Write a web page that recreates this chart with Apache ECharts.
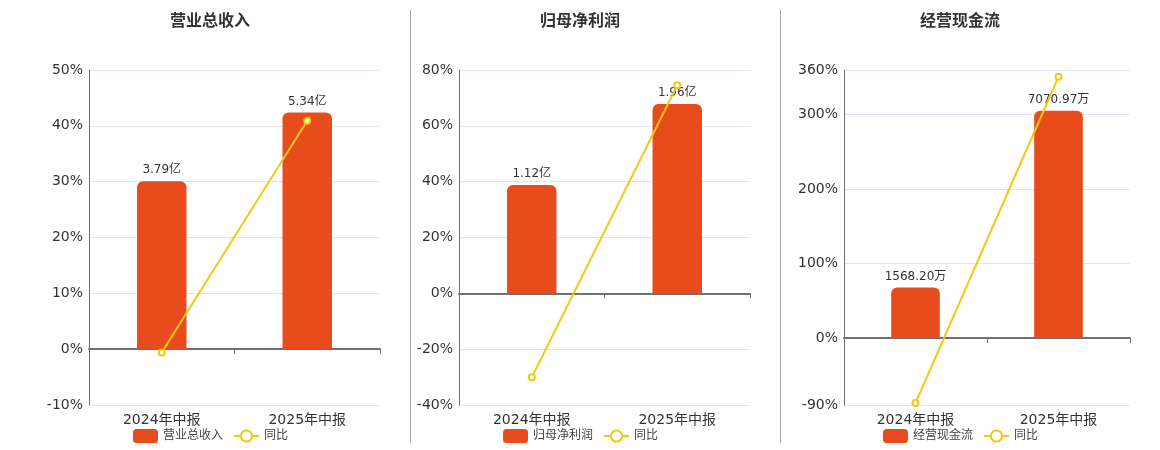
<!DOCTYPE html>
<html>
<head>
<meta charset="utf-8">
<script src="https://cdn.jsdelivr.net/npm/echarts@6/dist/echarts.min.js"></script>
<style>
html,body{margin:0;padding:0;background:#fff;}
#c{width:1160px;height:450px;}
</style>
</head>
<body>
<div id="c"></div>
<script>
// ---- data ----
const categories = ['2024年中报', '2025年中报'];
const panelTitles = ['营业总收入', '归母净利润', '经营现金流'];
const revenueValues = [3.79, 5.34];        // 亿
const netProfitValues = [1.12, 1.96];      // 亿
const cashFlowValues = [1568.20, 7070.97]; // 万
const revenueYoY = [-0.6, 40.9];           // %
const netProfitYoY = [-30.1, 74.5];        // %
const cashFlowYoY = [-87.4, 350.9];        // %
const barUnits = ['亿', '亿', '万'];
const pctAxisMin = [-10, -40, -90];
const pctAxisMax = [50, 80, 360];
const yoyName = '同比';

const barSets = [revenueValues, netProfitValues, cashFlowValues];
const yoySets = [revenueYoY, netProfitYoY, cashFlowYoY];

// ---- layout / style ----
const FONT = 'DejaVu Sans, "Noto Sans CJK SC", sans-serif';
const BAR_COLOR = '#E84C1D';
const LINE_COLOR = '#F2C811';
const AXIS_COLOR = '#6E7079';
const gridBoxes = [
  {left: 89, width: 291},
  {left: 459, width: 291},
  {left: 844, width: 286}
];
const centers = [210, 580, 960];
const barTopRatio = 0.848;

const chart = echarts.init(document.getElementById('c'), null, {renderer: 'canvas'});

const option = {
  backgroundColor: '#fff',
  animation: false,
  textStyle: {fontFamily: FONT},
  title: [], legend: [], grid: [], xAxis: [], yAxis: [], series: [],
  graphic: [
    {type: 'line', shape: {x1: 410.5, y1: 10, x2: 410.5, y2: 443}, style: {stroke: '#A9A9A0', lineWidth: 1}},
    {type: 'line', shape: {x1: 780.5, y1: 10, x2: 780.5, y2: 443}, style: {stroke: '#A9A9A0', lineWidth: 1}}
  ]
};

for (let i = 0; i < 3; i++) {
  const bars = barSets[i];
  const barMax = Math.max.apply(null, bars);
  const hMax = barMax / barTopRatio;
  const hMin = hMax * pctAxisMin[i] / pctAxisMax[i];

  option.title.push({
    text: panelTitles[i],
    left: centers[i] - 40, top: 14, padding: 0,
    textStyle: {fontSize: 16, fontWeight: 'bold', color: '#333', fontFamily: FONT}
  });
  option.legend.push({
    data: [panelTitles[i], yoyName],
    left: centers[i] - 77, top: 429, padding: 0,
    itemWidth: 25, itemHeight: 14, itemGap: 10,
    textStyle: {fontSize: 12, color: '#444', fontFamily: FONT},
    selectedMode: false
  });
  option.grid.push({left: gridBoxes[i].left, width: gridBoxes[i].width, top: 70, bottom: 45});

  // label axis at bottom
  option.xAxis.push({
    type: 'category', gridIndex: i, data: categories, position: 'bottom',
    axisLine: {show: false, onZero: false}, axisTick: {show: false},
    axisLabel: {fontSize: 14, color: '#333', margin: 8, fontFamily: FONT}
  });
  // zero line axis
  option.xAxis.push({
    type: 'category', gridIndex: i, data: categories, position: 'bottom',
    axisLine: {show: true, onZero: true, onZeroAxisIndex: i * 2, lineStyle: {color: AXIS_COLOR, width: 2}},
    axisTick: {show: true, length: 5, lineStyle: {color: AXIS_COLOR, width: 1}},
    axisLabel: {show: false}
  });

  option.yAxis.push({
    type: 'value', gridIndex: i, min: pctAxisMin[i], max: pctAxisMax[i], splitNumber: 5,
    axisLine: {show: true, lineStyle: {color: AXIS_COLOR, width: 1}},
    axisTick: {show: false},
    axisLabel: {formatter: '{value}%', fontSize: 14, color: '#333', margin: 6, fontFamily: FONT,
                showMinLabel: true, showMaxLabel: true},
    splitLine: {show: true, lineStyle: {color: '#E0E6F1'}}
  });
  option.yAxis.push({
    type: 'value', gridIndex: i, min: hMin, max: hMax, show: false,
    splitLine: {show: false}
  });

  const unit = barUnits[i];
  option.series.push({
    name: panelTitles[i], type: 'bar', xAxisIndex: i * 2, yAxisIndex: i * 2 + 1,
    data: bars, barWidth: '34%',
    itemStyle: {color: BAR_COLOR, borderRadius: [6, 6, 0, 0]},
    label: {show: true, position: 'top', distance: 5, fontSize: 12, color: '#333', fontFamily: FONT,
            formatter: p => p.value.toFixed(2) + unit},
    z: 2
  });
  option.series.push({
    name: yoyName, type: 'line', xAxisIndex: i * 2, yAxisIndex: i * 2,
    data: yoySets[i],
    symbol: 'emptyCircle', symbolSize: 6,
    lineStyle: {color: LINE_COLOR, width: 2},
    itemStyle: {color: LINE_COLOR, borderWidth: 2},
    z: 3
  });
}

chart.setOption(option);
</script>
</body>
</html>
